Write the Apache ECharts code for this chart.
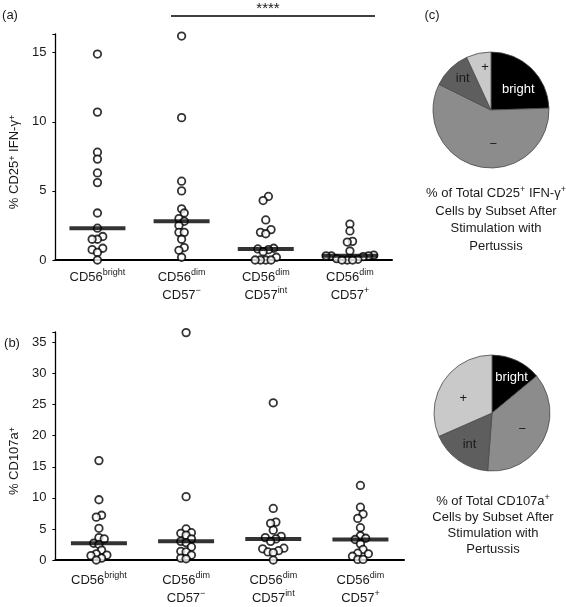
<!DOCTYPE html>
<html><head><meta charset="utf-8">
<script src="https://cdn.jsdelivr.net/npm/echarts@6/dist/echarts.min.js"></script>
<style>html,body{margin:0;padding:0;background:#fff}#c{width:566px;height:607px}</style>
</head><body><div id="c"></div>
<script>
// ---- data ----
const categories = ['CD56{s|bright}', 'CD56{s|dim}\nCD57{s|−}', 'CD56{s|dim}\nCD57{s|int}', 'CD56{s|dim}\nCD57{s|+}'];
// (a) % CD25+ IFN-γ+
const ifnBright = [14.9, 10.7, 7.8, 7.3, 6.3, 5.6, 3.4, 2.3, 1.7, 1.5, 1.5, 0.85, 0.75, 0.55, 0.0];
const ifnNeg    = [16.2, 10.3, 5.7, 5.0, 3.7, 3.4, 3.0, 2.8, 2.5, 2.0, 2.0, 1.5, 0.9, 0.7, 0.2];
const ifnInt    = [4.6, 4.3, 2.9, 2.2, 2.0, 1.9, 0.85, 0.8, 0.75, 0.6, 0.2, 0.0, 0.0, 0.0, 0.0];
const ifnPos    = [2.6, 2.1, 1.35, 1.3, 0.65, 0.35, 0.3, 0.3, 0.3, 0.25, 0.1, 0.05, 0.0, 0.0, 0.0];
// (b) % CD107a+
const cdBright = [16.0, 9.7, 7.2, 6.9, 5.1, 3.6, 3.4, 2.7, 2.5, 1.6, 1.0, 0.8, 0.7, 0.3, 0.0];
const cdNeg    = [36.6, 10.2, 5.0, 4.4, 4.3, 4.0, 3.4, 3.0, 2.8, 2.1, 1.4, 1.3, 0.8, 0.3, 0.2];
const cdInt    = [25.3, 8.3, 6.1, 5.9, 4.8, 3.8, 3.6, 3.4, 3.0, 1.9, 1.8, 1.5, 1.3, 1.2, 0.0];
const cdPos    = [12.0, 8.5, 7.4, 6.7, 5.2, 3.9, 3.5, 3.3, 2.6, 1.7, 1.1, 1.0, 0.6, 0.1, 0.1];
// tick labels
const yTicksA = [0, 5, 10, 15];
const yTicksB = [0, 5, 10, 15, 20, 25, 30, 35];
// (c) pies, % of total by subset
const pieNames = ['bright', '−', 'int', '+'];
const pieIfn   = [24.5, 57.8, 10.8, 6.9];
const pieCd107 = [14.0, 37.2, 17.2, 31.6];

// ---- layout / style ----
const FONT = '"Liberation Sans", Arial, Helvetica, sans-serif';
const TXT = '#1a1a1a';
const rich = { s: { fontSize: 9, lineHeight: 10, verticalAlign: 'top', fontFamily: FONT, color: TXT } };
const gridA = { left: 54, right: 174, top: 34, bottom: 347 };
const gridB = { left: 54, right: 162, top: 332, bottom: 44 };
const maxA = 16.35, maxB = 36.7;
const H = 607;
// pie label nudges (px) per slice
const nudgeTop = [[5, 2], [9, 3], [-6, -9], [1, -11]];
const nudgeBot = [[6, -7], [2, 2], [-4, 5], [-2, 3]];

function median(arr) {
  const s = arr.slice().sort((a, b) => a - b);
  const n = s.length;
  return n % 2 ? s[(n - 1) / 2] : (s[n / 2 - 1] + s[n / 2]) / 2;
}
// simple beeswarm: bin close values, spread horizontally, lowest in centre
function swarm(values, ppu, binPx, step) {
  const idx = values.map((v, i) => i).sort((a, b) => values[a] - values[b]);
  const off = new Array(values.length).fill(0);
  let bin = [];
  const flush = () => {
    const n = bin.length, slots = [];
    for (let k = 0; k < n; k++) slots.push((k - (n - 1) / 2) * step);
    slots.sort((a, b) => Math.abs(a) - Math.abs(b) || a - b);
    bin.forEach((i, k) => { off[i] = slots[k]; });
    bin = [];
  };
  idx.forEach(i => {
    if (bin.length && (values[i] - values[bin[0]]) * ppu >= binPx) flush();
    bin.push(i);
  });
  if (bin.length) flush();
  return off;
}
function scatterData(groups, ppu) {
  const out = [];
  groups.forEach((vals, g) => {
    const offs = swarm(vals, ppu, 6, 5.3);
    vals.forEach((v, i) => out.push({ value: [g, v], symbolOffset: [offs[i], 0] }));
  });
  return out;
}
const groupsA = [ifnBright, ifnNeg, ifnInt, ifnPos];
const groupsB = [cdBright, cdNeg, cdInt, cdPos];
const ppuA = (H - gridA.top - gridA.bottom) / maxA;
const ppuB = (H - gridB.top - gridB.bottom) / maxB;

function xAxis(gridIndex, margin) {
  return {
    type: 'category', gridIndex, data: categories, boundaryGap: true,
    axisLine: { lineStyle: { color: '#000', width: 2 } },
    axisTick: { show: false },
    axisLabel: { interval: 0, margin, color: TXT, fontSize: 13, lineHeight: 18, fontFamily: FONT, rich }
  };
}
function yAxis(gridIndex, max, ticks, name) {
  return {
    type: 'value', gridIndex, min: 0, max, interval: ticks[1] - ticks[0],
    name, nameLocation: 'middle', nameGap: 34, nameRotate: 90,
    nameTextStyle: { color: TXT, fontSize: 13, fontFamily: FONT, rich, padding: [0, 30, 0, 0] },
    axisLine: { show: true, lineStyle: { color: '#000', width: 1.3 } },
    axisTick: { show: true, length: 3, lineStyle: { color: '#000', width: 1 } },
    splitLine: { show: false },
    axisLabel: { color: TXT, fontSize: 13, fontFamily: FONT, margin: 9,
      formatter: v => (ticks.indexOf(v) >= 0 ? String(v) : '') }
  };
}
const pointStyle = { color: '#fff', borderColor: '#000', borderWidth: 1.8 };
function pointsSeries(xi, groups, ppu) {
  return { type: 'scatter', xAxisIndex: xi, yAxisIndex: xi, symbol: 'circle', symbolSize: 7.5,
    itemStyle: pointStyle, z: 3, silent: true, data: scatterData(groups, ppu) };
}
function medianSeries(xi, groups) {
  return { type: 'scatter', xAxisIndex: xi, yAxisIndex: xi, symbol: 'rect', symbolSize: [56, 4],
    itemStyle: { color: '#000' }, z: 4, silent: true, data: groups.map((g, i) => [i, median(g)]) };
}
const pieColors = ['#000000', '#8c8c8c', '#5e5e5e', '#c9c9c9'];
function pieSeries(center, values, nudge) {
  return {
    type: 'pie', center, radius: 58, startAngle: 90, clockwise: true, silent: true,
    avoidLabelOverlap: false,
    itemStyle: { borderColor: '#4a4a4a', borderWidth: 0.8 },
    label: { show: true, position: 'inside', formatter: '{b}', color: TXT, fontSize: 13, fontFamily: FONT },
    labelLine: { show: false },
    labelLayout: p => ({ dx: nudge[p.dataIndex][0], dy: nudge[p.dataIndex][1] }),
    data: values.map((v, i) => ({ name: pieNames[i], value: v,
      itemStyle: { color: pieColors[i] },
      label: i === 0 ? { color: '#fff' } : {} }))
  };
}
function txt(x, y, text, extra) {
  return Object.assign({ type: 'text', x, y, silent: true,
    style: Object.assign({ text, fill: TXT, font: '13px ' + FONT, align: 'center', verticalAlign: 'middle', rich }, extra || {}) });
}
const chart = echarts.init(document.getElementById('c'), null, { renderer: 'canvas' });
chart.setOption({
  backgroundColor: '#fff',
  animation: false,
  grid: [gridA, gridB],
  xAxis: [xAxis(0, 8), xAxis(1, 11)],
  yAxis: [yAxis(0, maxA, yTicksA, '% CD25{s|+} IFN-γ{s|+}'), yAxis(1, maxB, yTicksB, '% CD107a{s|+}')],
  series: [
    pointsSeries(0, groupsA, ppuA), medianSeries(0, groupsA),
    pointsSeries(1, groupsB, ppuB), medianSeries(1, groupsB),
    pieSeries([491, 110], pieIfn, nudgeTop), pieSeries([492, 413], pieCd107, nudgeBot)
  ],
  graphic: [
    txt(10, 15, '(a)'), txt(12, 343, '(b)'), txt(432, 15, '(c)'),
    { type: 'line', silent: true, shape: { x1: 171, y1: 16, x2: 375, y2: 16 }, style: { stroke: '#000', lineWidth: 1.3 } },
    txt(268, 9, '****', { font: '15px ' + FONT }),
    txt(496, 220, '% of Total CD25{s|+} IFN-γ{s|+}\nCells by Subset After\nStimulation with\nPertussis', { lineHeight: 17.5 }),
    txt(493, 525, '% of Total CD107a{s|+}\nCells by Subset After\nStimulation with\nPertussis', { lineHeight: 16 })
  ]
});
</script></body></html>
